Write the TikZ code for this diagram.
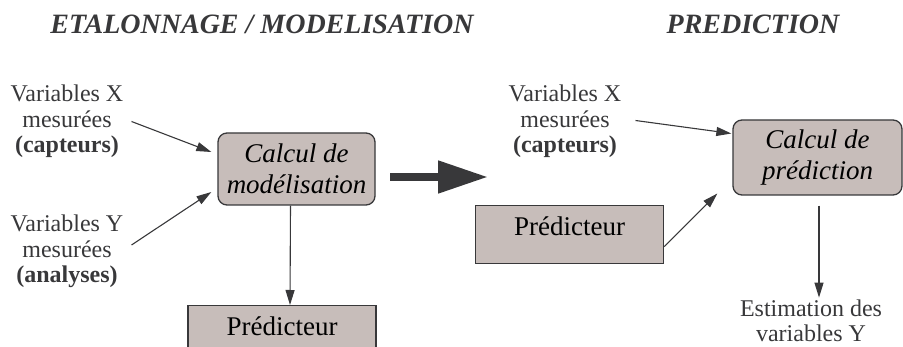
\documentclass[tikz,border=0pt]{standalone}
\usepackage{fontspec}
\setmainfont{Liberation Serif}
\usepackage{xcolor}
\usepackage{tikz}
\usetikzlibrary{arrows.meta}
\definecolor{boxfill}{HTML}{C7BDBA}
\definecolor{ink}{HTML}{38383A}
\tikzstyle{calcbox} = [rectangle, rounded corners=9pt,
minimum width=157pt,
minimum height=72pt,
align=center,
text centered,
draw=ink, fill=boxfill, line width=1.3pt,
font=\fontsize{27}{31}\selectfont\itshape]
\tikzstyle{predbox} = [rectangle,
minimum width=188pt,
text height=30pt, text depth=28pt, inner sep=0pt,
text centered,
draw=ink, fill=boxfill, line width=1.3pt,
font=\fontsize{27}{31}\selectfont]
\tikzstyle{sidetext} = [align=center, text=ink, inner sep=2pt,
font=\fontsize{24}{25.5}\selectfont]
\tikzstyle{titre} = [text=ink, font=\fontsize{28}{32}\selectfont\bfseries\itshape]
\tikzstyle{arrow} = [line width=1.1pt, draw=ink, -{Triangle[length=15pt,width=9pt]}]

\begin{document}
\begin{tikzpicture}[x=1pt, y=-1pt]
\useasboundingbox (0,0) rectangle (903,347);

% Titres
\node[titre] (tetal) at (262,24) {ETALONNAGE / MODELISATION};
\node[titre] (tpred) at (753,24) {PREDICTION};

% Etalonnage
\node[calcbox] (calcmod) at (296.5,169) {Calcul de\\mod\'elisation};
\node[sidetext] (varx) at (67,121.5) {Variables X\\mesur\'ees\\\textbf{(capteurs)}};
\node[sidetext] (vary) at (67,251.5) {Variables Y\\mesur\'ees\\\textbf{(analyses)}};
\node[predbox, anchor=north] (predg) at (282,305) {Pr\'edicteur};

\draw[arrow] ([xshift=6pt]varx.east) -- ([xshift=-6pt,yshift=17pt]calcmod.west);
\draw[arrow] ([xshift=6pt,yshift=6.5pt]vary.east) -- ([xshift=-6pt,yshift=-23pt]calcmod.west);
\draw[arrow] ([xshift=-6pt]calcmod.south) -- ([xshift=8pt]predg.north);

% Grosse fleche
\coordinate (bigs) at (390,177);
\coordinate (bige) at (488,177);
\draw[line width=8pt, draw=ink, -{Triangle[length=50pt,width=31pt]}] (bigs) -- (bige);

% Prediction
\node[calcbox, minimum width=169pt, minimum height=75pt] (calcpred) at (817.5,157.5) {Calcul de\\pr\'ediction};
\node[sidetext] (varx2) at (565,121.5) {Variables X\\mesur\'ees\\\textbf{(capteurs)}};
\node[predbox, anchor=north west] (predd) at (475,205) {Pr\'edicteur};
\node[sidetext] (esty) at (811,321) {Estimation des\\variables Y};

\draw[arrow] ([xshift=12pt,yshift=1pt]varx2.east) -- ([xshift=-1pt,yshift=24pt]calcpred.west);
\draw[arrow] ([yshift=-12pt]predd.east) -- ([xshift=-15pt,yshift=-36pt]calcpred.west);
\draw[arrow] ([xshift=1.5pt,yshift=-10pt]calcpred.south) -- ([xshift=8pt]esty.north);

\end{tikzpicture}
\end{document}
